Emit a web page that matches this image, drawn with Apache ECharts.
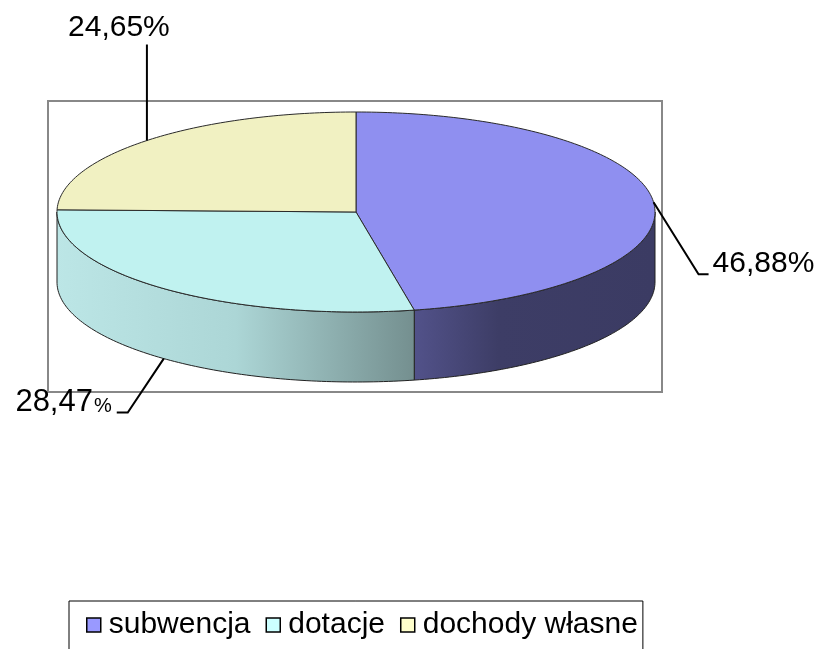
<!DOCTYPE html>
<html>
<head>
<meta charset="utf-8">
<script src="https://cdn.jsdelivr.net/npm/echarts@6/dist/echarts.min.js"></script>
<style>
html,body{margin:0;padding:0;background:#fff;}
#chart{width:821px;height:649px;}
</style>
</head>
<body>
<div id="chart"></div>
<script>
// ---- data ----
const categories = ['subwencja', 'dotacje', 'dochody własne'];
const shares = [46.88, 28.47, 24.65];

// ---- styling / geometry (not data) ----
const FONT = '"Liberation Sans", Arial, sans-serif';
const legendColors = ['#9999FF', '#CCFFFF', '#FFFFCC'];
const topColors = ['#8F8FF0', '#C0F2F0', '#F1F1C2'];
const sideStops = [
  [{offset: 0, color: '#52528A'}, {offset: 0.35, color: '#3D3D66'}, {offset: 1, color: '#3B3B63'}],
  [{offset: 0, color: '#BCE6E6'}, {offset: 0.5, color: '#ACD6D6'}, {offset: 1, color: '#748F8F'}],
  [{offset: 0, color: '#cccc99'}, {offset: 1, color: '#999966'}]
];
const CX = 356, CY = 212, RX = 299, RY = 100, DEPTH = 70;
// leader-line / label layout relative to each slice's anchor point
const labelLayout = [
  {pts: [[45, 72], [55, 72]], tx: 59, ty: 62, align: 'left'},
  {pts: [[-36, 54], [-47, 54]], tx: -52, ty: 44, align: 'right', smallPct: true},
  {pts: [[0, -96]], tx: -28, ty: -113, align: 'center'}
];

const total = shares.reduce((a, b) => a + b, 0);
const startDeg = [];
let acc = 0;
shares.forEach(v => { startDeg.push(acc / total * 360); acc += v; });

function pt(deg, dy) {
  const r = deg * Math.PI / 180;
  return [CX + RX * Math.sin(r), CY - RY * Math.cos(r) + (dy || 0)];
}
function arc(a, b, dy) {
  const pts = [];
  const n = Math.max(2, Math.ceil(Math.abs(b - a)));
  for (let k = 0; k <= n; k++) pts.push(pt(a + (b - a) * k / n, dy));
  return pts;
}
function fmt(v) { return v.toFixed(2).replace('.', ','); }

function makeRender(i) {
  return function (params, api) {
    const v = api.value(0);
    const a = startDeg[i];
    const b = a + v / total * 360;
    const children = [];
    // side wall (front half only: 90..270 deg)
    const sa = Math.max(a, 90), sb = Math.min(b, 270);
    if (sb > sa) {
      const top = arc(sa, sb, 0);
      const bot = arc(sb, sa, DEPTH);
      children.push({
        type: 'polygon',
        shape: {points: top.concat(bot)},
        style: {
          fill: {type: 'linear', x: 0, y: 0, x2: 1, y2: 0, colorStops: sideStops[i]},
          stroke: '#222', lineWidth: 1
        }
      });
    }
    // top face
    children.push({
      type: 'polygon',
      shape: {points: [[CX, CY]].concat(arc(a, b, 0))},
      style: {fill: topColors[i], stroke: '#2a2a2a', lineWidth: 1}
    });
    // label with leader line
    const mid = (a + b) / 2;
    const front = Math.cos(mid * Math.PI / 180) < 0;
    const anc = pt(mid, front ? DEPTH : 0);
    const L = labelLayout[i];
    const line = [anc].concat(L.pts.map(p => [anc[0] + p[0], anc[1] + p[1]]));
    children.push({
      type: 'polyline',
      shape: {points: line},
      style: {stroke: '#000', lineWidth: 2, fill: null}
    });
    const txt = L.smallPct ? '{a|' + fmt(v) + '}{b|%}' : fmt(v) + '%';
    children.push({
      type: 'text',
      style: {
        text: txt,
        x: anc[0] + L.tx, y: anc[1] + L.ty,
        align: L.align, textAlign: L.align,
        verticalAlign: 'middle', textVerticalAlign: 'middle',
        fill: '#000',
        fontSize: 30, fontFamily: FONT,
        rich: {
          a: {fontSize: 31, fontFamily: FONT, fill: '#000'},
          b: {fontSize: 20, fontFamily: FONT, fill: '#000', verticalAlign: 'bottom', padding: [0, 0, 2, 1]}
        }
      }
    });
    return {type: 'group', children: children};
  };
}

const chart = echarts.init(document.getElementById('chart'), null, {renderer: 'canvas'});
chart.setOption({
  animation: false,
  backgroundColor: '#fff',
  graphic: [{
    type: 'rect', z: 0, silent: true,
    shape: {x: 48, y: 101, width: 614, height: 291},
    style: {fill: 'none', stroke: '#888', lineWidth: 2}
  }],
  legend: {
    left: 69, top: 601,
    orient: 'horizontal',
    data: categories,
    icon: 'rect',
    itemWidth: 14, itemHeight: 14,
    itemGap: 15,
    padding: [9, 5, 30, 17],
    borderColor: '#000', borderWidth: 1,
    itemStyle: {borderColor: '#000', borderWidth: 1.5},
    textStyle: {fontSize: 30, fontFamily: FONT, color: '#000', padding: [0, 0, 0, 3]},
    selectedMode: false
  },
  series: categories.map((name, i) => ({
    type: 'custom',
    name: name,
    coordinateSystem: 'none',
    z: 2,
    itemStyle: {color: legendColors[i]},
    data: [[shares[i]]],
    renderItem: makeRender(i)
  }))
});
</script>
</body>
</html>
